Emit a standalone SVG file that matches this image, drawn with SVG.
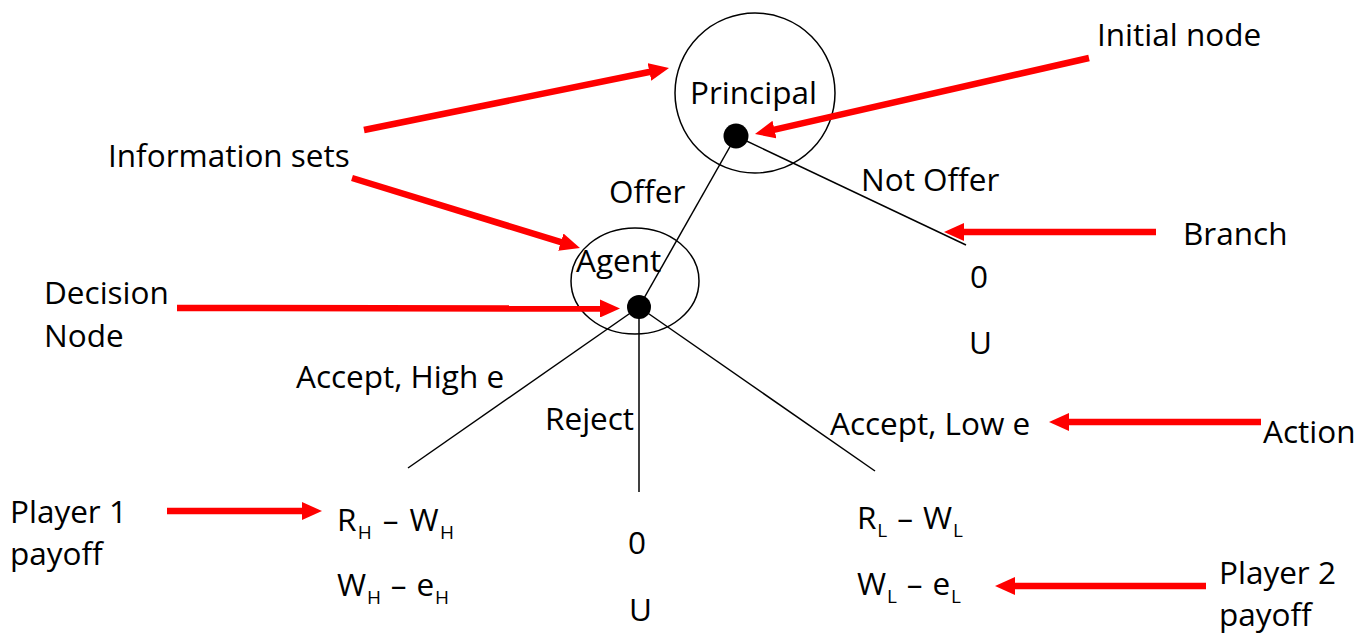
<svg xmlns="http://www.w3.org/2000/svg" width="1363" height="634" viewBox="0 0 1363 634">
<style>
text{font-family:"Open Sans","Noto Sans",sans-serif;font-size:31.5px;fill:#000}
.sub{font-size:19px}
.edge{stroke:#000;stroke-width:1.5;fill:none}
.ring{stroke:#000;stroke-width:1.5;fill:none}
.ptr{stroke:#ff0000;stroke-width:6.5;fill:none;marker-end:url(#ah)}
</style>
<defs>
<marker id="ah" viewBox="0 0 20 18" markerUnits="userSpaceOnUse" markerWidth="20" markerHeight="18" refX="1" refY="9" orient="auto">
<path d="M0,0 L20,9 L0,18 z" fill="#ff0000"/>
</marker>
</defs>
<rect width="1363" height="634" fill="#fff"/>
<g id="connectors">
<line class="edge" x1="736" y1="136" x2="639" y2="307"/>
<line class="edge" x1="736" y1="136" x2="966" y2="245"/>
<line class="edge" x1="639" y1="307" x2="408" y2="468"/>
<line class="edge" x1="639" y1="307" x2="639" y2="492"/>
<line class="edge" x1="639" y1="307" x2="875" y2="471"/>
</g>
<g id="principal">
<circle class="ring" cx="755" cy="93" r="80"/>
<circle cx="736" cy="136" r="12.5" fill="#000"/>
<text x="690" y="104">Principal</text>
</g>
<g id="agent">
<ellipse class="ring" cx="635" cy="281" rx="64" ry="53"/>
<circle cx="639" cy="307" r="12" fill="#000"/>
<text x="576" y="272">Agent</text>
</g>
<g id="labels">
<text x="609" y="203">Offer</text>
<text x="861" y="191">Not Offer</text>
<text x="970" y="288">0</text>
<text x="969" y="354">U</text>
<text x="296" y="388">Accept, High e</text>
<text x="545" y="430">Reject</text>
<text x="830" y="435">Accept, Low e</text>
<text x="628" y="554">0</text>
<text x="629" y="621">U</text>
</g>
<g id="payoff-high">
<text x="337" y="531" textLength="117" lengthAdjust="spacing">R<tspan class="sub" dy="8">H</tspan><tspan dy="-8"> – W</tspan><tspan class="sub" dy="8">H</tspan></text>
<text x="337" y="596" textLength="112" lengthAdjust="spacing">W<tspan class="sub" dy="8">H</tspan><tspan dy="-8"> – e</tspan><tspan class="sub" dy="8">H</tspan></text>
</g>
<g id="payoff-low">
<text x="857" y="529" textLength="106" lengthAdjust="spacing">R<tspan class="sub" dy="8">L</tspan><tspan dy="-8"> – W</tspan><tspan class="sub" dy="8">L</tspan></text>
<text x="857" y="595" textLength="104" lengthAdjust="spacing">W<tspan class="sub" dy="8">L</tspan><tspan dy="-8"> – e</tspan><tspan class="sub" dy="8">L</tspan></text>
</g>
<g id="annotations">
<text x="1097" y="46">Initial node</text>
<text x="108" y="167">Information sets</text>
<text x="1183" y="245">Branch</text>
<text x="44" y="304">Decision</text>
<text x="44" y="347">Node</text>
<text x="1263" y="443">Action</text>
<text x="10" y="523">Player 1</text>
<text x="10" y="565">payoff</text>
<text x="1219" y="584">Player 2</text>
<text x="1219" y="626">payoff</text>
</g>
<g id="pointers">
<line class="ptr" x1="364" y1="130" x2="650.4" y2="71.8"/>
<line class="ptr" x1="352" y1="178" x2="561.8" y2="242.4"/>
<line class="ptr" x1="177" y1="308" x2="601" y2="308.5"/>
<line class="ptr" x1="1089" y1="58" x2="773.5" y2="129.8"/>
<line class="ptr" x1="1156" y1="232" x2="963" y2="232"/>
<line class="ptr" x1="1261" y1="422" x2="1068" y2="422"/>
<line class="ptr" x1="1206" y1="586" x2="1014" y2="586"/>
<line class="ptr" x1="167" y1="511" x2="303" y2="511"/>
</g>
</svg>
